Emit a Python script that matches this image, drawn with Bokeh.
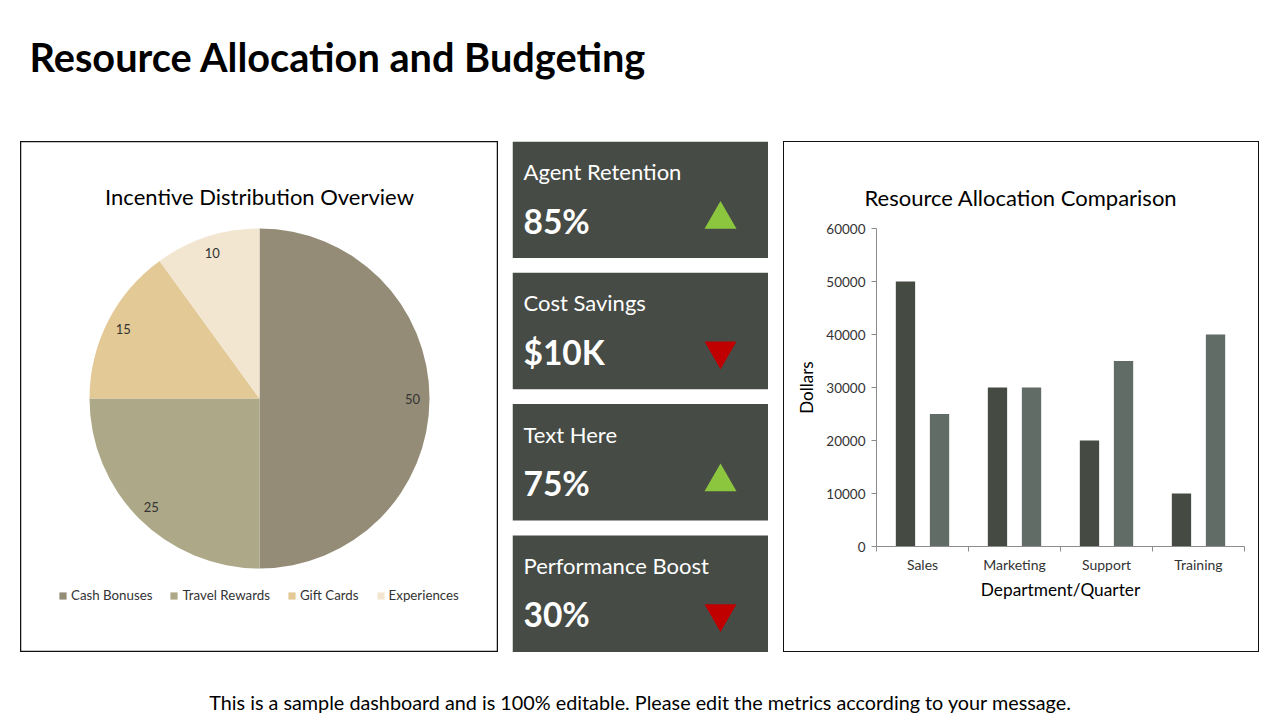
import numpy as np
from bokeh.plotting import figure
from bokeh.models import (Range1d, Label, Spacer, FixedTicker, ColumnDataSource,
                          NumeralTickFormatter)
from bokeh.layouts import column, row
from bokeh.core.properties import value
from bokeh.embed import file_html
from bokeh.resources import INLINE

FONT = "Lato"

# ---------------- data ----------------
page_title = "Resource Allocation and Budgeting"
footer_text = ("This is a sample dashboard and is 100% editable. "
               "Please edit the metrics according to your message.")

pie_title = "Incentive Distribution Overview"
pie_categories = ["Cash Bonuses", "Travel Rewards", "Gift Cards", "Experiences"]
pie_values = [50, 25, 15, 10]
pie_colors = ["#948C77", "#ADA887", "#E2C995", "#F2E6D1"]

kpi_titles = ["Agent Retention", "Cost Savings", "Text Here", "Performance Boost"]
kpi_values = ["85%", "$10K", "75%", "30%"]
kpi_trends = ["up", "down", "up", "down"]

bar_title = "Resource Allocation Comparison"
departments = ["Sales", "Marketing", "Support", "Training"]
series_a = [50000, 30000, 20000, 10000]
series_b = [25000, 30000, 35000, 40000]
y_ticks = [0, 10000, 20000, 30000, 40000, 50000, 60000]
x_axis_title = "Department/Quarter"
y_axis_title = "Dollars"

CARD = "#464B45"
DARK_BAR = "#454B43"
LIGHT_BAR = "#626C66"
AXIS = "#8C8C8C"
TXT = "#333333"


def blank(w, h, yr):
    p = figure(width=w, height=h, x_range=Range1d(0, w), y_range=yr,
               output_backend="svg", toolbar_location=None, min_border=0,
               x_axis_location=None, y_axis_location=None,
               outline_line_color=None, background_fill_color="white",
               border_fill_color="white")
    p.grid.visible = False
    return p


def rule(w, h):
    return Spacer(width=w, height=h, styles={"background-color": "#111111"})


# ---------------- page title ----------------
head = blank(1280, 141, Range1d(141, 0))
head.add_layout(Label(x=29, y=56, text=page_title, text_font=FONT,
                      text_font_size="39.7px", text_font_style="bold",
                      text_color="black", text_baseline="middle"))

# ---------------- pie ----------------
PW, PH = 478, 511
pie = blank(PW, PH, Range1d(0, PH))
pie.outline_line_color = "#111111"
pie.outline_line_width = 1.5
cx, cy, r = 239, 254, 170
vals = np.array(pie_values, dtype=float)
cum = np.concatenate([[0], np.cumsum(vals)])
start = np.pi / 2 - 2 * np.pi * cum[:-1] / vals.sum()
end = np.pi / 2 - 2 * np.pi * cum[1:] / vals.sum()
mid = (start + end) / 2
src = ColumnDataSource(dict(cat=pie_categories, start=start, end=end,
                            color=pie_colors,
                            lx=cx + 0.9 * r * np.cos(mid),
                            ly=cy + 0.9 * r * np.sin(mid),
                            lab=[str(v) for v in pie_values]))
pie.wedge(x=cx, y=cy, radius=r, start_angle="start", end_angle="end",
          direction="clock", fill_color="color", line_color=None,
          legend_field="cat", source=src)
pie.text(x="lx", y="ly", text="lab", source=src, text_font=value(FONT),
         text_font_size="13px", text_color=TXT, text_align="center",
         text_baseline="middle")
pie.add_layout(Label(x=239, y=456, text=pie_title, text_font=FONT,
                     text_font_size="22px", text_color="black",
                     text_align="center", text_baseline="middle"))
lg = pie.legend[0]
lg.orientation = "horizontal"
lg.location = (38, 49)
lg.background_fill_alpha = 0
lg.border_line_color = None
lg.label_text_font = FONT
lg.label_text_font_size = "13.3px"
lg.label_text_color = TXT
lg.glyph_width = 9
lg.glyph_height = 9
lg.label_standoff = 4
lg.spacing = 17
lg.padding = 0
lg.margin = 0

# ---------------- KPI cards ----------------
KW = 256
kpi = blank(KW, PH, Range1d(PH, 0))
tops = np.arange(len(kpi_titles)) * 131.3
ksrc = ColumnDataSource(dict(
    top=tops, bottom=tops + 116.5, title=kpi_titles, val=kpi_values,
    ty=tops + 30, vy=tops + 79, my=tops + 78,
    marker=["triangle" if t == "up" else "inverted_triangle" for t in kpi_trends],
    mcolor=["#8CC63F" if t == "up" else "#C00000" for t in kpi_trends]))
kpi.quad(left=0, right=KW, top="top", bottom="bottom", source=ksrc,
         fill_color=CARD, line_color=None)
kpi.text(x=11, y="ty", text="title", source=ksrc, text_font=value(FONT),
         text_font_size="22px", text_color="white", text_baseline="middle")
kpi.text(x=11, y="vy", text="val", source=ksrc, text_font=value(FONT),
         text_font_size="33.5px", text_font_style="bold", text_color="white",
         text_baseline="middle")
kpi.scatter(x=208, y="my", marker="marker", size=32, source=ksrc,
            fill_color="mcolor", line_color=None)

# ---------------- bar chart ----------------
BW, BH = 476, 511
bar = figure(width=BW - 2, height=BH - 2, x_range=Range1d(0, 4),
             y_range=Range1d(0, 60000), min_border_left=92, min_border_right=14,
             min_border_top=86, min_border_bottom=105, output_backend="svg",
             toolbar_location=None, outline_line_color=None,
             background_fill_color="white", border_fill_color="white")
bar.grid.visible = False
xc = np.arange(len(departments)) + 0.5
bar.vbar(x=xc - 0.185, top=series_a, width=0.21, fill_color=DARK_BAR, line_color=None)
bar.vbar(x=xc + 0.185, top=series_b, width=0.21, fill_color=LIGHT_BAR, line_color=None)

bar.title.text = bar_title
bar.title.text_font = FONT
bar.title.text_font_size = "22px"
bar.title.text_font_style = "normal"
bar.title.text_color = "black"
bar.title.align = "left"
bar.title.offset = -12
bar.title.standoff = 36

xa = bar.xaxis[0]
xa.ticker = FixedTicker(ticks=list(xc), minor_ticks=list(range(len(departments) + 1)))
xa.major_label_overrides = {float(x): d for x, d in zip(xc, departments)}
xa.major_tick_line_color = None
xa.major_tick_out = 0
xa.major_tick_in = 0
xa.minor_tick_out = 5
xa.minor_tick_in = 0
xa.minor_tick_line_color = AXIS
xa.axis_line_color = AXIS
xa.major_label_standoff = 4
xa.major_label_text_font = FONT
xa.major_label_text_font_size = "14px"
xa.major_label_text_color = TXT
xa.axis_label = x_axis_title
xa.axis_label_text_font = FONT
xa.axis_label_text_font_size = "17.3px"
xa.axis_label_text_font_style = "normal"
xa.axis_label_text_color = "black"
xa.axis_label_standoff = 3

ya = bar.yaxis[0]
ya.ticker = FixedTicker(ticks=y_ticks, minor_ticks=[])
ya.formatter = NumeralTickFormatter(format="0")
ya.major_tick_out = 5
ya.major_tick_in = 0
ya.major_tick_line_color = AXIS
ya.axis_line_color = AXIS
ya.major_label_standoff = 6
ya.major_label_text_font = FONT
ya.major_label_text_font_size = "13.5px"
ya.major_label_text_color = TXT
ya.axis_label = y_axis_title
ya.axis_label_text_font = FONT
ya.axis_label_text_font_size = "17px"
ya.axis_label_text_font_style = "normal"
ya.axis_label_text_color = "black"
ya.axis_label_standoff = 6

bar_panel = column(
    rule(BW, 1),
    row(rule(1, BH - 2), column(bar), rule(1, BH - 2), spacing=0),
    rule(BW, 1), spacing=0)

# ---------------- footer ----------------
foot = blank(1280, 68, Range1d(68, 0))
foot.add_layout(Label(x=640, y=49, text=footer_text, text_font=FONT,
                      text_font_size="19.8px", text_color="black",
                      text_align="center", text_baseline="middle"))

layout = column(
    head,
    row(Spacer(width=20, height=PH), column(pie), Spacer(width=14, height=PH),
        column(kpi), Spacer(width=15, height=PH), bar_panel, spacing=0),
    foot, spacing=0)

open("out.html", "w").write(file_html(layout, INLINE))
